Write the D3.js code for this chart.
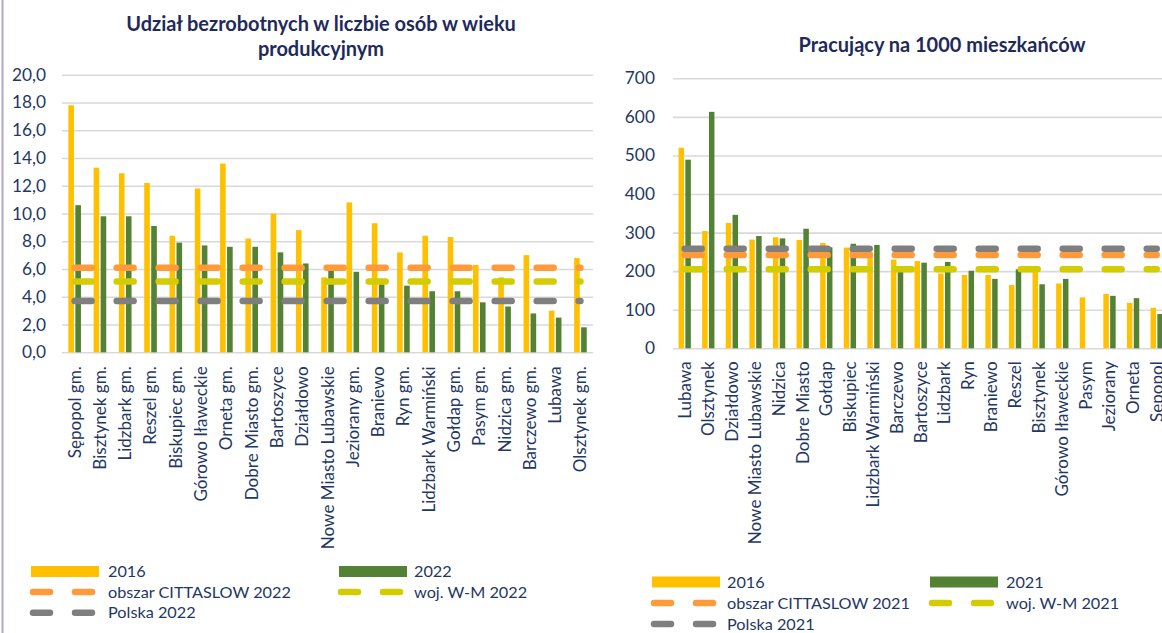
<!DOCTYPE html>
<html><head><meta charset="utf-8">
<script src="https://cdn.jsdelivr.net/npm/d3@7"></script>
<style>body{margin:0;background:#fff;overflow:hidden} svg{display:block}</style>
</head><body>
<svg id="c" width="1162" height="633"></svg>
<script>
// ---------- DATA ----------
const leftCategories = ["Sępopol gm.","Bisztynek gm.","Lidzbark gm.","Reszel gm.","Biskupiec gm.","Górowo Iławeckie","Orneta gm.","Dobre Miasto gm.","Bartoszyce","Działdowo","Nowe Miasto Lubawskie","Jeziorany gm.","Braniewo","Ryn gm.","Lidzbark Warmiński","Gołdap gm.","Pasym gm.","Nidzica gm.","Barczewo gm.","Lubawa","Olsztynek gm."];
const left2016 = [17.8,13.3,12.9,12.2,8.4,11.8,13.6,8.2,10.0,8.8,5.4,10.8,9.3,7.2,8.4,8.3,6.3,5.4,7.0,3.0,6.8];
const left2022 = [10.6,9.8,9.8,9.1,7.9,7.7,7.6,7.6,7.2,6.4,5.9,5.8,4.9,4.8,4.4,4.4,3.6,3.3,2.8,2.5,1.8];
const leftCittaslow = 6.1, leftWM = 5.1, leftPolska = 3.7;
const leftTicks = [0,2,4,6,8,10,12,14,16,18,20];

const rightCategories = ["Lubawa","Olsztynek","Działdowo","Nowe Miasto Lubawskie","Nidzica","Dobre Miasto","Gołdap","Biskupiec","Lidzbark Warmiński","Barczewo","Bartoszyce","Lidzbark","Ryn","Braniewo","Reszel","Bisztynek","Górowo Iławeckie","Pasym","Jeziorany","Orneta","Sępopol"];
const right2016 = [520,304,325,282,288,281,273,261,250,230,226,194,190,190,164,206,168,132,141,118,105];
const right2021 = [489,613,346,291,285,310,262,271,268,200,222,224,201,180,205,166,180,null,136,130,89];
const rightCittaslow = 242, rightWM = 205, rightPolska = 258;
const rightTicks = [0,100,200,300,400,500,600,700];

const titleLeft = ["Udział bezrobotnych w liczbie osób w wieku","produkcyjnym"];
const titleRight = "Pracujący na 1000 mieszkańców";
const legendLeft = {s1:"2016", s2:"2022", c:"obszar CITTASLOW 2022", w:"woj. W-M 2022", p:"Polska 2022"};
const legendRight = {s1:"2016", s2:"2021", c:"obszar CITTASLOW 2021", w:"woj. W-M 2021", p:"Polska 2021"};

// ---------- STYLE ----------
const C = {y:"#ffc000", g:"#548235", o:"#ff9a3a", w:"#d2cc00", p:"#7f7f7f", grid:"#d9d9d9", text:"#1f3864", title:"#1f2a5c"};
const FONT = 'Lato, "Open Sans", sans-serif';
const svg = d3.select("#c");

function fitSize(text, target, weight){
  const t = svg.append("text").attr("font-family",FONT).attr("font-size",100).attr("font-weight",weight).text(text);
  const w = t.node().getComputedTextLength(); t.remove(); return 100*target/w;
}
const labelSize = fitSize("Nowe Miasto Lubawskie",183,"normal");
const tickSize = fitSize("20,0",34,"normal");
const legendSize = fitSize("obszar CITTASLOW 2022",183,"normal");
const titleSize = fitSize(titleLeft[0],390,"bold");

// left purple border
svg.append("line").attr("x1",2.5).attr("x2",2.5).attr("y1",0).attr("y2",633).attr("stroke","#b3a6cf").attr("stroke-width",2);

function drawChart(cfg){
  const n = cfg.cats.length;
  const x = d3.scaleBand().domain(cfg.cats).range([cfg.x0, cfg.x0 + cfg.bw*n]).paddingInner(0).paddingOuter(0);
  const y = d3.scaleLinear().domain([0,cfg.max]).range([cfg.y0, cfg.yTop]);
  const bw = x.bandwidth();
  const plotW = Math.min(cfg.x0 + bw*n, 1170) - cfg.x0;
  const g = svg.append("g");

  const ya = g.append("g").attr("transform",`translate(${cfg.x0},0)`)
    .call(d3.axisLeft(y).tickValues(cfg.ticks).tickFormat(cfg.fmt).tickSizeInner(-plotW).tickSizeOuter(0).tickPadding(cfg.tickPad));
  ya.select(".domain").remove();
  ya.selectAll("line").attr("stroke",C.grid).attr("stroke-width",1.6);
  ya.selectAll("text").attr("fill",C.text).attr("font-family",FONT).attr("font-size",tickSize);

  const xa = g.append("g").attr("transform",`translate(0,${cfg.y0})`)
    .call(d3.axisBottom(x).tickSize(0));
  xa.select(".domain").remove();
  xa.selectAll("text").attr("fill",C.text).attr("font-family",FONT).attr("font-size",labelSize)
    .attr("transform","rotate(-90)").attr("x",-cfg.labelD).attr("y",0).attr("dy","0.35em").attr("text-anchor","end");

  const w = bw*cfg.barFrac, gap = bw*0.055;
  const start = d => x(d) + bw/2 - (2*w+gap)/2;
  const data = cfg.cats.map((c,i)=>({c, a:cfg.s1[i], b:cfg.s2[i]}));
  g.selectAll(".b1").data(data).join("rect").attr("x",d=>start(d.c)).attr("width",w)
    .attr("y",d=>y(d.a)).attr("height",d=>y(0)-y(d.a)).attr("fill",C.y);
  g.selectAll(".b2").data(data.filter(d=>d.b!=null)).join("rect").attr("x",d=>start(d.c)+w+gap).attr("width",w)
    .attr("y",d=>y(d.b)).attr("height",d=>y(0)-y(d.b)).attr("fill",C.g);

  const refs = [[cfg.refC,C.o],[cfg.refW,C.w],[cfg.refP,C.p]];
  refs.forEach(([v,col])=>{
    const line = d3.line().x(d=>x(d)+bw/2).y(()=>y(v));
    g.append("path").attr("d",line(cfg.cats)).attr("fill","none").attr("stroke",col)
      .attr("stroke-width",6.5).attr("stroke-linecap","round").attr("stroke-dasharray","17,25");
  });

  const L = cfg.leg, lg = svg.append("g").attr("font-family",FONT).attr("font-size",legendSize).attr("fill",C.text);
  const rows = cfg.legRows;
  lg.append("rect").attr("x",L.c1).attr("y",rows[0]-5.5).attr("width",68).attr("height",11).attr("fill",C.y);
  lg.append("text").attr("x",L.t1).attr("y",rows[0]).attr("dy","0.35em").text(cfg.legText.s1);
  lg.append("rect").attr("x",L.c2).attr("y",rows[0]-5.5).attr("width",68).attr("height",11).attr("fill",C.g);
  lg.append("text").attr("x",L.t2).attr("y",rows[0]).attr("dy","0.35em").text(cfg.legText.s2);
  const dash = (x0,yy,col)=> lg.append("line").attr("x1",x0+2.5).attr("x2",x0+2.5+59).attr("y1",yy).attr("y2",yy)
      .attr("stroke",col).attr("stroke-width",6.5).attr("stroke-linecap","round").attr("stroke-dasharray","17,25");
  dash(L.c1-0.5,rows[1],C.o);
  lg.append("text").attr("x",L.t1).attr("y",rows[1]).attr("dy","0.35em").text(cfg.legText.c);
  dash(L.c2-0.5,rows[1],C.w);
  lg.append("text").attr("x",L.t2).attr("y",rows[1]).attr("dy","0.35em").text(cfg.legText.w);
  dash(L.c1-0.5,rows[2],C.p);
  lg.append("text").attr("x",L.t1).attr("y",rows[2]).attr("dy","0.35em").text(cfg.legText.p);
}

drawChart({cats:leftCategories, s1:left2016, s2:left2022, refC:leftCittaslow, refW:leftWM, refP:leftPolska,
  x0:62, bw:25.29, y0:352.3, yTop:74.7, max:20, ticks:leftTicks, fmt:d=>d3.format(".1f")(d).replace(".",","),
  tickPad:16, labelD:14, barFrac:0.222,
  leg:{c1:31, t1:108, c2:339, t2:414}, legRows:[571.5,592,612.7], legText:legendLeft});

drawChart({cats:rightCategories, s1:right2016, s2:right2021, refC:rightCittaslow, refW:rightWM, refP:rightPolska,
  x0:672.9, bw:23.6, y0:348.3, yTop:78.3, max:700, ticks:rightTicks, fmt:d3.format("d"),
  tickPad:18, labelD:13, barFrac:0.233,
  leg:{c1:652, t1:727, c2:930, t2:1006}, legRows:[582,603,624], legText:legendRight});

const tg = svg.append("g").attr("font-family",FONT).attr("font-weight","bold").attr("font-size",titleSize).attr("fill",C.title).attr("text-anchor","middle");
tg.append("text").attr("x",321).attr("y",31).text(titleLeft[0]);
tg.append("text").attr("x",321).attr("y",56).text(titleLeft[1]);
tg.append("text").attr("x",942).attr("y",52).text(titleRight);
</script>
</body></html>
